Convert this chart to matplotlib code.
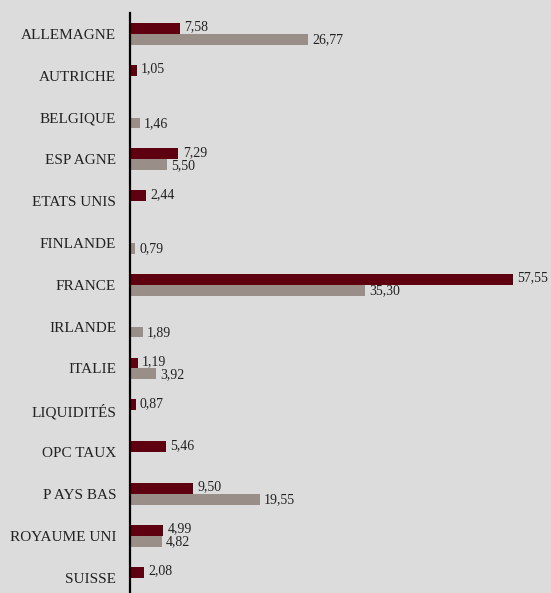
# Repartition par pays - barres horizontales

import numpy as np
from matplotlib import pyplot as plt

categories = [
    "ALLEMAGNE", "AUTRICHE", "BELGIQUE", "ESP AGNE", "ETATS UNIS",
    "FINLANDE", "FRANCE", "IRLANDE", "ITALIE", "LIQUIDITÉS",
    "OPC TAUX", "P AYS BAS", "ROYAUME UNI", "SUISSE",
]
serie_rouge = [7.58, 1.05, None, 7.29, 2.44, None, 57.55, None, 1.19, 0.87, 5.46, 9.50, 4.99, 2.08]
serie_grise = [26.77, None, 1.46, 5.50, None, 0.79, 35.30, 1.89, 3.92, None, None, 19.55, 4.82, None]

RED = "#5f0010"
GREY = "#9a8e89"
BG = "#dcdcdc"

plt.rcParams["font.family"] = ["Liberation Serif", "DejaVu Serif"]

fig = plt.figure(figsize=(5.51, 5.93), dpi=100, facecolor=BG)
ax = fig.add_axes([130 / 551, 0, 1 - 130 / 551, (593 - 13) / 593])
ax.set_facecolor(BG)

y = np.arange(len(categories))
h = 0.26

def to_arr(vals):
    return np.array([np.nan if v is None else v for v in vals], dtype=float)

red = to_arr(serie_rouge)
grey = to_arr(serie_grise)

ax.barh(y - h / 2, np.nan_to_num(red), height=h, color=RED)
ax.barh(y + h / 2, np.nan_to_num(grey), height=h, color=GREY)

# Value labels
for yi, v in zip(y, red):
    if not np.isnan(v):
        ax.annotate(f"{v:.2f}".replace(".", ","), (v, yi - h / 2),
                    xytext=(3, 1), textcoords="offset points",
                    va="center", ha="left", fontsize=10, color="#222222")
for yi, v in zip(y, grey):
    if not np.isnan(v):
        ax.annotate(f"{v:.2f}".replace(".", ","), (v, yi + h / 2),
                    xytext=(3, -0.5), textcoords="offset points",
                    va="center", ha="left", fontsize=10, color="#222222")

ax.set_xlim(0, 63.3)
ax.set_ylim(13.37, -0.5)
ax.set_yticks(y)
ax.set_yticklabels(categories, fontsize=11, color="#222222")
ax.tick_params(axis="y", length=0, pad=10)
ax.set_xticks([])

for side in ["top", "right", "bottom"]:
    ax.spines[side].set_visible(False)
ax.spines["left"].set_linewidth(1.6)
ax.spines["left"].set_color("black")

fig.savefig("out.png", dpi=100, facecolor=BG)
plt.close(fig)
